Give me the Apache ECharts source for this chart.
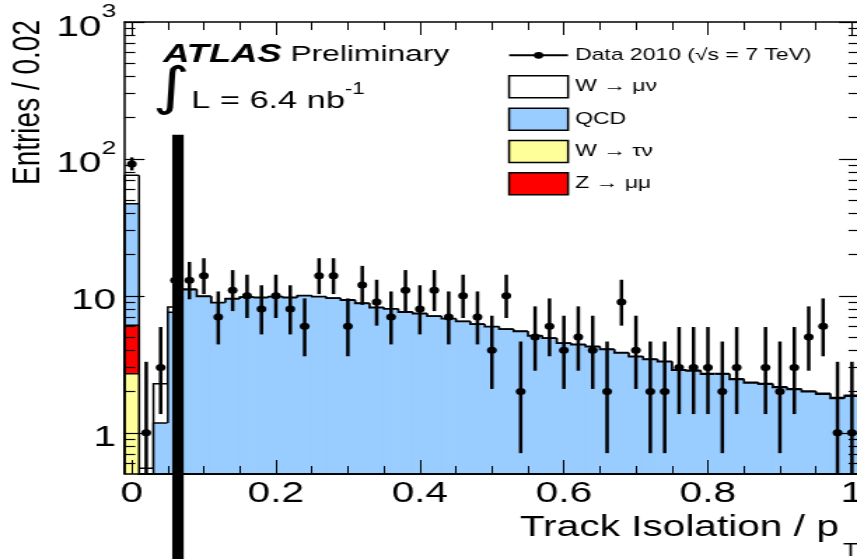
<!DOCTYPE html>
<html><head><meta charset="utf-8">
<script src="https://cdn.jsdelivr.net/npm/echarts@6/dist/echarts.min.js"></script>
<style>
html,body{margin:0;padding:0;background:#fff;overflow:hidden;}
#wrap{width:857px;height:559px;overflow:hidden;position:relative;background:#fff;}
#chart{width:612px;height:559px;transform:scaleX(1.40033);transform-origin:0 0;}
</style></head><body><div id="wrap"><div id="chart"></div></div>
<script>
// ---- data (bin centres, width 0.02) ----
const binCenters = [0,0.02,0.04,0.06,0.08,0.1,0.12,0.14,0.16,0.18,0.2,0.22,0.24,0.26,0.28,0.3,0.32,0.34,0.36,0.38,0.4,0.42,0.44,0.46,0.48,0.5,0.52,0.54,0.56,0.58,0.6,0.62,0.64,0.66,0.68,0.7,0.72,0.74,0.76,0.78,0.8,0.82,0.84,0.86,0.88,0.9,0.92,0.94,0.96,0.98,1.0];
const binWidth = 0.02;
const dataCounts = [92,1,3,13,13,14,7,11,10,8,10,8,6,14,14,6,12,9,7,11,8,11,7,10,7,4,10,2,5,6,4,5,4,2,9,4,2,2,3,3,3,2,3,0,3,2,3,5,6,1,1];
const dataErrLow = [82.5,0.17,1.37,9.44,9.44,10.3,4.42,7.74,6.89,5.23,6.89,5.23,3.62,10.3,10.3,3.62,8.59,6.06,4.42,7.74,5.23,7.74,4.42,6.89,4.42,2.09,6.89,0.71,2.84,3.62,2.09,2.84,2.09,0.71,6.06,2.09,0.71,0.71,1.37,1.37,1.37,0.71,1.37,0,1.37,0.71,1.37,2.84,3.62,0.17,0.17];
const dataErrHigh = [102.6,3.3,5.92,17.7,17.7,18.83,10.77,15.42,14.27,11.95,14.27,11.95,9.58,18.83,18.83,9.58,16.56,13.11,10.77,15.42,11.95,15.42,10.77,14.27,10.77,7.16,14.27,4.64,8.38,9.58,7.16,8.38,7.16,4.64,13.11,7.16,4.64,4.64,5.92,5.92,5.92,4.64,5.92,0,5.92,4.64,5.92,8.38,9.58,3.3,3.3];
const wtaunu = [2.7,0,0,0,0,0,0,0,0,0,0,0,0,0,0,0,0,0,0,0,0,0,0,0,0,0,0,0,0,0,0,0,0,0,0,0,0,0,0,0,0,0,0,0,0,0,0,0,0,0,0];
const zmumu = [3.4,0,0,0,0,0,0,0,0,0,0,0,0,0,0,0,0,0,0,0,0,0,0,0,0,0,0,0,0,0,0,0,0,0,0,0,0,0,0,0,0,0,0,0,0,0,0,0,0,0,0];
const qcd = [41,0,1.18,7.6,11.1,9.9,8.9,9.5,9.75,9.7,9.85,9.7,10.0,9.85,9.6,9.3,8.8,8.2,8.0,7.6,7.4,7.1,6.8,6.5,6.2,5.95,5.7,5.5,5.1,4.9,4.5,4.4,4.25,4.06,3.83,3.59,3.43,3.3,2.86,2.83,2.68,2.68,2.45,2.31,2.26,2.14,2.07,1.99,1.91,1.78,1.85];
const wmunu = [29,0.55,1.1,0.7,0.1,0.06,0.05,0.05,0.05,0.05,0.05,0.05,0.05,0.05,0.05,0.05,0.05,0.05,0.05,0.05,0.05,0.03,0.03,0.03,0.03,0.03,0.03,0.03,0.03,0.03,0.03,0.03,0.03,0.03,0.03,0.03,0.03,0.03,0.03,0.03,0.03,0.03,0.03,0.03,0.03,0.03,0.03,0.03,0.03,0.03,0.03];
const cutValue = 0.064;
const cutTop = 150;
const xTickValues = [0,0.2,0.4,0.6,0.8,1];
const xTickLabels = ['0','0.2','0.4','0.6','0.8','1'];
const xMinorTicks = [0.05,0.1,0.15,0.25,0.3,0.35,0.45,0.5,0.55,0.65,0.7,0.75,0.85,0.9,0.95];
const yTickValues = [1,10,100,1000];
const yTickLabels = ['{b|1}','{b|10}','{b|10}{s|2}','{b|10}{s|3}'];
const yMinorTicks = [0.6,0.7,0.8,0.9,2,3,4,5,6,7,8,9,20,30,40,50,60,70,80,90,200,300,400,500,600,700,800,900];
const dataName = 'Data 2010 (√s = 7 TeV)';
const X_MIN = -0.01, X_MAX = 1.01, Y_MIN = 0.5, Y_MAX = 1000;

const FONT = 'Liberation Sans, Arial, Helvetica, sans-serif';
const components = [
  {name:'W → τν', values:wtaunu, color:'#ffff99'},
  {name:'Z → μμ', values:zmumu, color:'#ff0000'},
  {name:'QCD', values:qcd, color:'#99ccff'},
  {name:'W → μν', values:wmunu, color:'#ffffff'}
];
const cumulative = [];
components.forEach((c, ci) => {
  cumulative.push(c.values.map((v, i) => v + (ci > 0 ? cumulative[ci-1][i] : 0)));
});

const mcSeries = components.map((c, ci) => ({
  type:'custom', name:c.name, xAxisIndex:0, yAxisIndex:0, z: 8 - ci,
  itemStyle:{color:c.color},
  data: binCenters.map((x, i) => [x, Math.max(cumulative[ci][i], Y_MIN)]),
  renderItem: function(params, api){
    const i = params.dataIndex;
    const xc = api.value(0);
    const yOf = v => api.coord([xc, Math.max(v, Y_MIN)])[1];
    const xl = api.coord([xc - binWidth/2, Y_MIN])[0];
    const xr = api.coord([xc + binWidth/2, Y_MIN])[0];
    const top = cumulative[ci][i];
    const base = ci > 0 ? cumulative[ci-1][i] : 0;
    const prev = i > 0 ? cumulative[ci][i-1] : 0;
    const yTop = yOf(top), yBase = yOf(base), yPrev = yOf(prev);
    const children = [];
    if (yBase - yTop > 0.2) {
      children.push({type:'rect', shape:{x:xl-0.3, y:yTop, width:xr-xl+0.6, height:yBase-yTop}, style:{fill:c.color}});
    }
    const pts = [[xl, yPrev],[xl, yTop],[xr, yTop]];
    if (i === binCenters.length - 1) pts.push([xr, yOf(0)]);
    children.push({type:'polyline', shape:{points:pts}, style:{stroke:'#000', lineWidth:1.5, fill:null}});
    return {type:'group', children};
  }
}));

const dataIdx = binCenters.map((x, i) => i).filter(i => dataCounts[i] > 0);

const errSeries = {
  type:'custom', name:dataName, z:14, itemStyle:{color:'#000'},
  data: dataIdx.map(i => [binCenters[i], dataErrLow[i], dataErrHigh[i]]),
  renderItem: function(params, api){
    const x = api.value(0);
    const lo = api.coord([x, Math.max(api.value(1), Y_MIN)]);
    const hi = api.coord([x, api.value(2)]);
    return {type:'line', shape:{x1:lo[0], y1:lo[1], x2:hi[0], y2:hi[1]}, style:{stroke:'#000', lineWidth:2.5}};
  }
};
const pointSeries = {
  type:'scatter', name:dataName, z:15, symbol:'circle', symbolSize:7,
  itemStyle:{color:'#000', opacity:1},
  data: dataIdx.map(i => [binCenters[i], dataCounts[i]])
};
const cutSeries = {
  type:'custom', name:'cut', z:30, clip:false, silent:true,
  data:[[cutValue, cutTop]],
  renderItem: function(params, api){
    const p = api.coord([api.value(0), api.value(1)]);
    return {type:'rect', shape:{x:p[0]-4.1, y:p[1], width:8.2, height:api.getHeight()-p[1]}, style:{fill:'#000'}};
  }
};

const xCommon = {type:'value', min:X_MIN, max:X_MAX, z:12, splitLine:{show:false},
  axisLine:{onZero:false, show:true, lineStyle:{color:'#000', width:1.5}}};
const yCommon = {type:'log', logBase:10, min:Y_MIN, max:Y_MAX, z:12, splitLine:{show:false}, minorTick:{show:false},
  axisLine:{onZero:false, show:true, lineStyle:{color:'#000', width:1.5}}};
const tickStyleX = {color:'#000', width:1};
const tickStyleY = {color:'#000', width:1.2};

const dataIcon = 'path://M0,0L0.01,0L0,0.01Z M42,22L41.99,22L42,21.99Z M0,10L42,10L42,12L0,12Z M17.6,11A3.4,3.4,0,1,1,24.4,11A3.4,3.4,0,1,1,17.6,11Z';

const option = {
  animation:false,
  backgroundColor:'#ffffff',
  grid:{left:89, top:22, width:524.5, height:452, show:false, containLabel:false, outerBoundsMode:'none'},
  legend:{
    orient:'vertical', left:362.8, top:44.3, padding:0, itemWidth:42.1, itemHeight:22, itemGap:8.8,
    selectedMode:false,
    textStyle:{fontSize:16.4, fontFamily:FONT, color:'#000'},
    data:[
      {name:dataName, icon:dataIcon, itemStyle:{color:'#000', borderWidth:0}},
      {name:'W → μν', icon:'rect', itemStyle:{color:'#ffffff', borderColor:'#000', borderWidth:1.5}},
      {name:'QCD', icon:'rect', itemStyle:{color:'#99ccff', borderColor:'#000', borderWidth:1.5}},
      {name:'W → τν', icon:'rect', itemStyle:{color:'#ffff99', borderColor:'#000', borderWidth:1.5}},
      {name:'Z → μμ', icon:'rect', itemStyle:{color:'#ff0000', borderColor:'#000', borderWidth:1.5}}
    ]
  },
  xAxis:[
    Object.assign({}, xCommon, {position:'bottom',
      axisTick:{show:true, inside:true, length:14, customValues:xTickValues, lineStyle:tickStyleX},
      axisLabel:{show:true, customValues:xTickValues, margin:5, fontSize:29, fontFamily:FONT, color:'#000',
        formatter: v => { const k = xTickValues.findIndex(t => Math.abs(t - v) < 1e-9); return k >= 0 ? xTickLabels[k] : ''; }}}),
    Object.assign({}, xCommon, {position:'top',
      axisTick:{show:true, inside:true, length:13, customValues:xTickValues, lineStyle:tickStyleX},
      axisLabel:{show:false}}),
    Object.assign({}, xCommon, {position:'bottom', axisLine:{show:false, onZero:false},
      axisTick:{show:true, inside:true, length:8, customValues:xMinorTicks, lineStyle:tickStyleX},
      axisLabel:{show:false}}),
    Object.assign({}, xCommon, {position:'top', axisLine:{show:false, onZero:false},
      axisTick:{show:true, inside:true, length:8, customValues:xMinorTicks, lineStyle:tickStyleX},
      axisLabel:{show:false}})
  ],
  yAxis:[
    Object.assign({}, yCommon, {position:'left',
      axisTick:{show:true, inside:true, length:14.3, customValues:yTickValues, lineStyle:tickStyleY},
      axisLabel:{show:true, customValues:yTickValues, margin:6, color:'#000',
        formatter: v => { const k = yTickValues.findIndex(t => Math.abs(t - v) / t < 1e-6); return k >= 0 ? yTickLabels[k] : ''; },
        rich:{ b:{fontSize:29, fontFamily:FONT, color:'#000', lineHeight:40, verticalAlign:'bottom'},
               s:{fontSize:19, fontFamily:FONT, color:'#000', lineHeight:20, verticalAlign:'top'} }}}),
    Object.assign({}, yCommon, {position:'right',
      axisTick:{show:true, inside:true, length:14.3, customValues:yTickValues, lineStyle:tickStyleY},
      axisLabel:{show:false}}),
    Object.assign({}, yCommon, {position:'left', axisLine:{show:false, onZero:false},
      axisTick:{show:true, inside:true, length:7.6, customValues:yMinorTicks, lineStyle:tickStyleY},
      axisLabel:{show:false}}),
    Object.assign({}, yCommon, {position:'right', axisLine:{show:false, onZero:false},
      axisTick:{show:true, inside:true, length:7.6, customValues:yMinorTicks, lineStyle:tickStyleY},
      axisLabel:{show:false}})
  ],
  graphic:[
    {type:'text', x:116.4, y:54.5, z:50, style:{text:'{a|ATLAS} {b|Preliminary}', fontSize:22.7, fontFamily:FONT, fill:'#000', verticalAlign:'middle', align:'left',
      rich:{a:{fontSize:26, fontWeight:'bold', fontStyle:'italic', fontFamily:FONT, fill:'#000'}, b:{fontSize:22.7, fontFamily:FONT, fill:'#000'}}}},
    {type:'text', x:122, y:90, z:50, style:{text:'∫', fontSize:52, fontFamily:'DejaVu Sans, sans-serif', fill:'#000', align:'center', verticalAlign:'middle'}},
    {type:'text', x:136.6, y:101.7, z:50, style:{text:'{m|L = 6.4 nb}{s|-1}', fontFamily:FONT, fill:'#000', align:'left', verticalAlign:'middle',
      rich:{m:{fontSize:24.5, fontFamily:FONT, lineHeight:41, verticalAlign:'middle', fill:'#000'}, s:{fontSize:16, fontFamily:FONT, lineHeight:16, verticalAlign:'top', fill:'#000'}}}},
    {type:'text', x:20.4, y:20, rotation:Math.PI/2, z:50, style:{text:'Entries / 0.02', fontSize:28, fontFamily:FONT, fill:'#000', align:'right', verticalAlign:'middle'}},
    {type:'text', x:613, y:513, z:50, style:{text:'{a|Track Isolation / p}{t|T}', fontFamily:FONT, fill:'#000', align:'right', verticalAlign:'top',
      rich:{a:{fontSize:29, fontFamily:FONT, lineHeight:30, verticalAlign:'top', fill:'#000'}, t:{fontSize:18, fontFamily:FONT, lineHeight:76, verticalAlign:'middle', padding:[0,0,0,3], fill:'#000'}}}}
  ],
  series: mcSeries.concat([errSeries, pointSeries, cutSeries])
};
const chart = echarts.init(document.getElementById('chart'), null, {renderer:'canvas', width:612, height:559});
chart.setOption(option);
</script>
</body></html>
